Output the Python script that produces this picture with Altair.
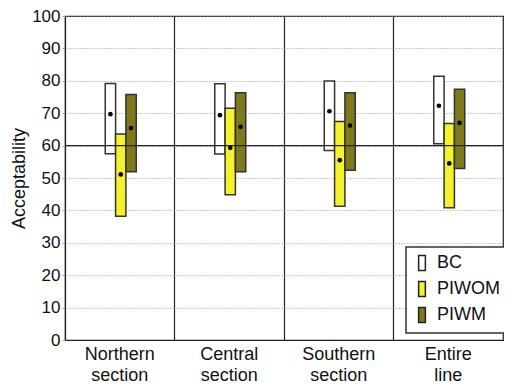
import altair as alt
import pandas as pd

sections = ["Northern section", "Central section", "Southern section", "Entire line"]
series = ["BC", "PIWOM", "PIWM"]
colors = ["#ffffff", "#f4f22c", "#7e7a1c"]

bc_low = [57.5, 57.4, 58.5, 60.6]
bc_high = [79.2, 79.1, 79.9, 81.4]
bc_mean = [69.7, 69.4, 70.6, 72.3]

piwom_low = [38.2, 44.8, 41.3, 40.8]
piwom_high = [63.6, 71.5, 67.4, 66.8]
piwom_mean = [51.1, 59.3, 55.5, 54.5]

piwm_low = [51.9, 51.9, 52.4, 52.9]
piwm_high = [75.8, 76.3, 76.3, 77.4]
piwm_mean = [65.4, 65.8, 66.2, 67.0]

threshold = [60]
y_ticks = [0, 10, 20, 30, 40, 50, 60, 70, 80, 90, 100]

rows = []
for s, lo, hi, me in [("BC", bc_low, bc_high, bc_mean),
                      ("PIWOM", piwom_low, piwom_high, piwom_mean),
                      ("PIWM", piwm_low, piwm_high, piwm_mean)]:
    for i, sec in enumerate(sections):
        rows.append({"section": sec, "series": s, "low": lo[i], "high": hi[i], "mean": me[i]})
df = pd.DataFrame(rows)

W = 438
H = 324
FONT = "Liberation Sans"
BAND = W / 4
GROUP = 31

x = alt.X("section:N", sort=sections, title=None,
          scale=alt.Scale(paddingInner=0, paddingOuter=0),
          axis=alt.Axis(bandPosition=0, grid=True, gridColor="#222", gridWidth=1.2,
                        gridDash=[], ticks=False, domain=True, domainColor="#222",
                        labelExpr="split(datum.label, ' ')", labelAngle=0,
                        labelFontSize=18, labelLineHeight=21,
                        labelPadding=5, labelColor="#111", labelFont=FONT))
xo = alt.XOffset("series:N", sort=series,
                 scale=alt.Scale(range=[BAND / 2 - GROUP / 2 + 1, BAND / 2 + GROUP / 2 + 1],
                                 paddingOuter=0, paddingInner=0))

y_axis = alt.Axis(values=y_ticks, grid=True, gridColor="#999",
                  gridDash=[1, 2], gridWidth=1, tickSize=3, tickColor="#aaa",
                  domainColor="#222", labelFontSize=17, labelColor="#111",
                  labelFont=FONT, labelPadding=2, titleFontSize=18,
                  titleFontWeight="normal", titleFont=FONT, titleColor="#111",
                  titlePadding=3, labelOverlap=False)
y_scale = alt.Scale(domain=[0, 100])

bars = alt.Chart(df).mark_bar(stroke="#333", strokeWidth=1.5).encode(
    x=x,
    xOffset=xo,
    y=alt.Y("low:Q", scale=y_scale, title="Acceptability", axis=y_axis),
    y2="high:Q",
    fill=alt.Fill("series:N", sort=series,
                  scale=alt.Scale(domain=series, range=colors),
                  legend=alt.Legend(title=None, orient="none", legendX=341, legendY=231,
                                    symbolType="M-0.45,-1H0.45V1H-0.45Z", symbolSize=225,
                                    symbolStrokeColor="#222", symbolStrokeWidth=1.5,
                                    labelFontSize=18, labelFont=FONT, labelColor="#111",
                                    strokeColor="#333", fillColor="white",
                                    padding=7, rowPadding=4, labelOffset=6,
                                    symbolOpacity=1)),
)

dots = alt.Chart(df).mark_point(filled=True, color="black", size=22, opacity=1).encode(
    x=x,
    xOffset=xo,
    y=alt.Y("mean:Q", scale=y_scale, title="Acceptability", axis=y_axis),
)

rule = alt.Chart(pd.DataFrame({"t": threshold})).mark_rule(color="#222", strokeWidth=1.2).encode(
    y=alt.Y("t:Q", scale=y_scale, title="Acceptability", axis=y_axis)
)

chart = alt.layer(bars, rule, dots).properties(
    width=W, height=H,
    autosize=alt.AutoSizeParams(type="none"),
    padding={"top": 8, "left": 57, "right": 1, "bottom": 44}
).configure_view(stroke="#222", strokeWidth=1.2).configure_legend(strokeWidth=1.5)

chart.save("out.html", embed_options={"renderer": "svg", "actions": False})
